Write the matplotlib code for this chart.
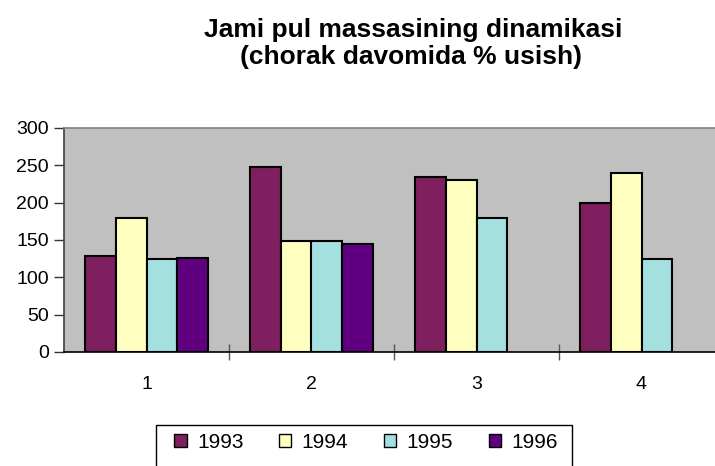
import numpy as np
import matplotlib.pyplot as plt
from matplotlib.patches import Rectangle

plt.rcParams['font.family'] = ['Liberation Sans', 'DejaVu Sans']

categories = ['1', '2', '3', '4']
years = ['1993', '1994', '1995', '1996']
values = {
    '1993': [129, 248, 234, 199],
    '1994': [180, 148, 231, 240],
    '1995': [124, 148, 180, 124],
    '1996': [126, 145, np.nan, np.nan],
}
colors = ['#7f1f5f', '#ffffc0', '#a4e0e0', '#600080']

W, H = 715, 466
fig = plt.figure(figsize=(W / 100, H / 100), dpi=100)
# plot area runs a little past the right edge of the picture
ax = fig.add_axes([64 / W, 1 - 352 / H, 660 / W, 224 / H])
ax.set_facecolor('#c0c0c0')

x = np.arange(1, len(categories) + 1)
w = 0.185
for i, (yr, c) in enumerate(zip(years, colors)):
    ax.bar(x + (i - 1.5) * w, values[yr], width=w, color=c,
           edgecolor='black', linewidth=1.5, label=yr)

ax.set_xlim(0.5, 4.5)
ax.set_ylim(0, 300)
ax.set_yticks(range(0, 301, 50))
ax.set_xticks(x)
ax.set_xticklabels(categories)
ax.set_xticks([1.5, 2.5, 3.5], minor=True)
ax.tick_params(axis='x', which='major', length=0, labelsize=14, pad=17)
ax.tick_params(axis='x', which='minor', length=11, direction='inout',
               color='#555555', width=1)
ax.tick_params(axis='y', length=7, direction='out', labelsize=14,
               color='#333333', width=1, pad=4)

ax.spines['right'].set_visible(False)
ax.spines['top'].set_color('#808080')
ax.spines['left'].set_color('#404040')
ax.spines['bottom'].set_color('black')
for s in ax.spines.values():
    s.set_linewidth(1.2)

# title, two lines
fig.text(413 / W, 1 - 37 / H, 'Jami pul massasining dinamikasi',
         ha='center', va='baseline', fontsize=19, fontweight='bold')
fig.text(411 / W, 1 - 64 / H, '(chorak davomida % usish)',
         ha='center', va='baseline', fontsize=19, fontweight='bold')

# legend without its own frame, box drawn separately (cut by the bottom edge)
leg = fig.legend(loc='center', bbox_to_anchor=(366 / W, 1 - 442 / H),
                 ncol=4, fontsize=15, frameon=False,
                 handlelength=0.6, handleheight=0.6,
                 handletextpad=0.5, columnspacing=1.7)
for h in leg.legend_handles:
    h.set_linewidth(1.0)
fig.patches.append(Rectangle((156 / W, -0.02), (572 - 156) / W, 0.02 + 41 / H,
                             transform=fig.transFigure, fill=False,
                             edgecolor='black', linewidth=1.0))

fig.savefig('out.png', dpi=100)
